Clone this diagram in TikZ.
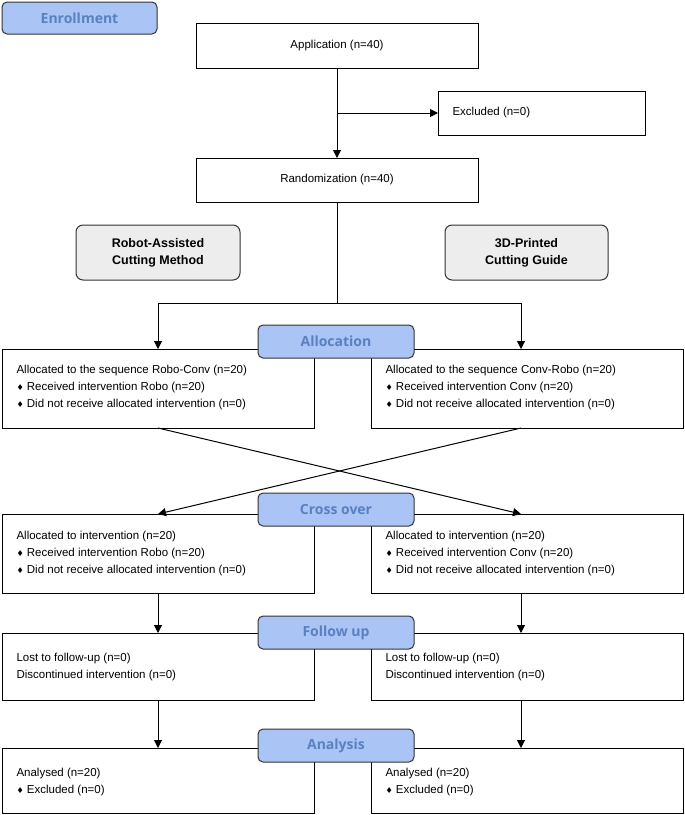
\documentclass[tikz,border=0pt]{standalone}
\usepackage{fontspec}
\setmainfont{Liberation Sans}
\newfontfamily\titlefont{Open Sans}
\newfontfamily\dvfont{DejaVu Sans}
\newcommand{\dmd}{{\dvfont\scalebox{0.7}{♦}}}
\usetikzlibrary{arrows.meta}
\definecolor{hdfill}{HTML}{A9C4F5}
\definecolor{hdtext}{HTML}{5B80C0}
\begin{document}
\begin{tikzpicture}[x=1pt,y=-1pt,
  box/.style={draw=black,line width=1pt,fill=white,inner sep=0pt},
  hd/.style={draw=black!80,line width=1pt,fill=hdfill,rounded corners=5pt},
  gb/.style={draw=black!80,line width=1pt,fill=black!7,rounded corners=7pt},
  arr/.style={-{Triangle[length=8pt,width=8pt]},line width=1pt},
  ln/.style={line width=1pt},
  hdt/.style={font=\titlefont\bfseries\fontsize{14}{16}\selectfont,text=hdtext},
  lbl/.style={font=\fontsize{11.5}{14}\selectfont},
  txt/.style={font=\fontsize{11.5}{17}\selectfont,align=left,anchor=north west}]
\useasboundingbox (0,0) rectangle (685,815);
% Enrollment
\draw[hd] (2,2) rectangle (157,34); \node[hdt] (enr) at (79.5,18) {Enrollment};
\draw[box] (196,23) rectangle (478,68); \node[lbl] (app) at (337,45.5) {Application (n=40)};
\draw[box] (438,91) rectangle (645,135); \node[lbl,anchor=west] (exc) at (449,113) {Excluded (n=0)};
\draw[box] (196,158) rectangle (478,202); \node[lbl] (ran) at (337,180) {Randomization (n=40)};
\coordinate (ex) at (438,113);
\draw[arr] (337,68) -- (337,158);
\draw[arr] (337,113) -- (ex);
\draw[gb] (76,225) rectangle (240,280); \node[font=\bfseries\fontsize{12.5}{17}\selectfont,align=center] (robo) at (158,252.5) {Robot-Assisted\\Cutting Method};
\draw[gb] (445,225) rectangle (608,280); \node[font=\bfseries\fontsize{12.5}{17}\selectfont,align=center] (tdp) at (526.5,252.5) {3D-Printed\\Cutting Guide};
% split
\draw[ln] (337,202) -- (337,303);
\draw[arr] (337,303) -- (158,303) -- (158,349);
\draw[arr] (337,303) -- (521,303) -- (521,349);
% row boxes
\foreach \ya/\yb in {349/428,514/593,633/700,748/813}{
  \draw[box] (2,\ya) rectangle (314,\yb);
  \draw[box] (371,\ya) rectangle (683,\yb);
}
\node[txt] (l1) at (13,362) {Allocated to the sequence Robo-Conv (n=20)\\\dmd{} Received intervention Robo (n=20)\\\dmd{} Did not receive allocated intervention (n=0)};
\node[txt] (r1) at (382,362) {Allocated to the sequence Conv-Robo (n=20)\\\dmd{} Received intervention Conv (n=20)\\\dmd{} Did not receive allocated intervention (n=0)};
\node[txt] (l2) at (13,528) {Allocated to intervention (n=20)\\\dmd{} Received intervention Robo (n=20)\\\dmd{} Did not receive allocated intervention (n=0)};
\node[txt] (r2) at (382,528) {Allocated to intervention (n=20)\\\dmd{} Received intervention Conv (n=20)\\\dmd{} Did not receive allocated intervention (n=0)};
\node[txt] (l3) at (13,650) {Lost to follow-up (n=0)\\Discontinued intervention (n=0)};
\node[txt] (r3) at (382,650) {Lost to follow-up (n=0)\\Discontinued intervention (n=0)};
\node[txt] (l4) at (13,765) {Analysed (n=20)\\\dmd{} Excluded (n=0)};
\node[txt] (r4) at (382,765) {Analysed (n=20)\\\dmd{} Excluded (n=0)};
% connectors
\draw[arr] (158,428) -- (521,514);
\draw[arr] (521,428) -- (158,514);
\draw[arr] (158,593) -- (158,633);
\draw[arr] (521,593) -- (521,633);
\draw[arr] (158,700) -- (158,748);
\draw[arr] (521,700) -- (521,748);
% headers
\foreach \ya/\yb/\t/\n in {325/358/Allocation/ha,493/526/Cross over/hc,616/649/Follow up/hf,729/762/Analysis/hn}{
  \draw[hd] (258,\ya) rectangle (414,\yb);
  \node[hdt] (\n) at (336,{(\ya+\yb)/2}) {\t};
}
\end{tikzpicture}
\end{document}
